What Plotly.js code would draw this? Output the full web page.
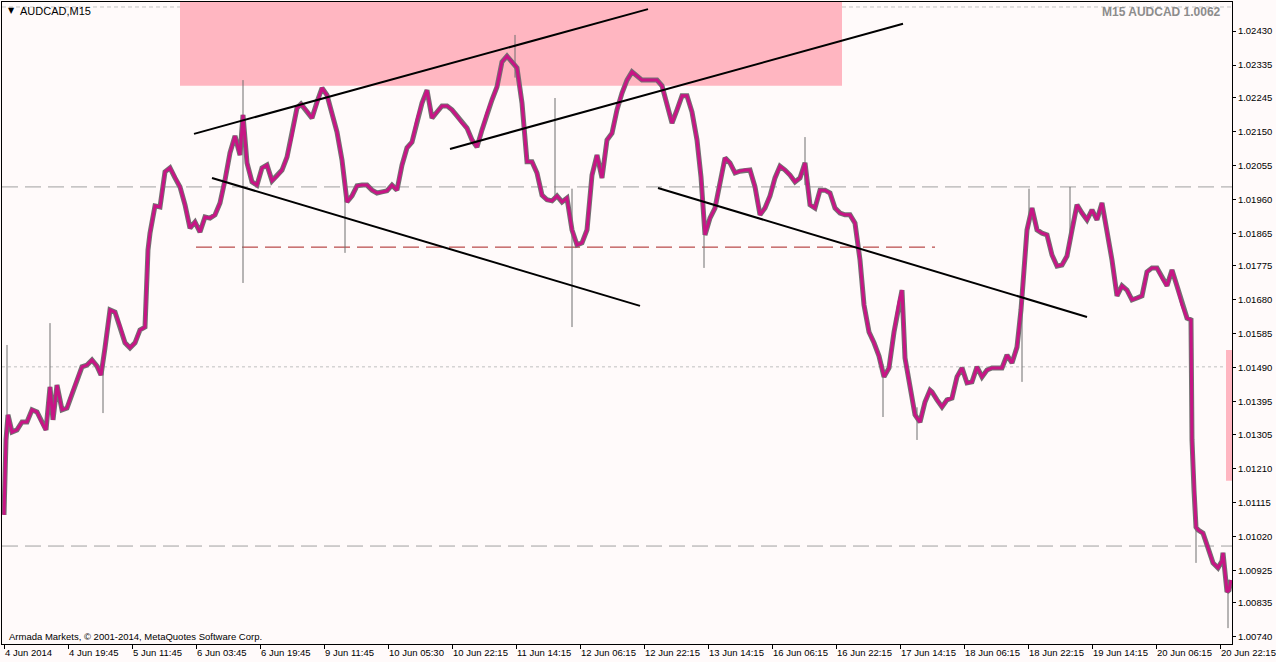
<!DOCTYPE html>
<html><head><meta charset="utf-8">
<script src="https://cdn.plot.ly/plotly-3.0.1.min.js"></script>
<style>html,body{margin:0;padding:0;background:#fffafa;overflow:hidden}#chart{width:1276px;height:662px}</style>
</head><body><div id="chart"></div>
<script>
// bar index (M15 bars) and close price
const barIdx = [0,2,4,8,13,18,23,28,33,38,42,46,49,53,58,63,68,73,78,83,88,93,97,101,106,111,116,121,126,131,136,141,144,146,151,156,161,166,171,176,181,186,191,196,201,206,211,216,221,226,231,236,239,243,248,253,258,263,268,273,278,283,288,293,297,302,308,313,318,323,328,333,338,343,348,353,358,363,368,373,378,383,388,393,398,403,408,413,418,423,428,433,438,443,448,453,458,463,468,473,478,483,488,493,498,503,508,513,518,523,528,533,538,543,548,553,558,563,568,573,578,583,588,593,598,603,608,613,618,623,628,633,638,643,648,653,658,663,668,673,678,683,688,693,697,701,706,711,716,721,726,731,736,741,746,751,756,761,766,771,776,781,786,791,796,801,806,811,816,821,826,831,836,841,846,851,856,860,865,870,875,880,885,890,895,898,901,906,911,916,921,926,928,933,938,943,948,953,958,963,968,973,978,983,988,993,998,1003,1008,1013,1017,1020,1023,1028,1033,1038,1043,1048,1053,1058,1063,1068,1073,1078,1083,1088,1093,1098,1103,1108,1113,1118,1123,1128,1133,1138,1143,1148,1153,1158,1163,1168,1173,1178,1183,1187,1188,1190,1192,1194,1199,1204,1209,1214,1218,1219,1223,1225,1227];
const closePrice = [1.01080,1.01289,1.01359,1.01311,1.01317,1.01339,1.01339,1.01373,1.01367,1.01336,1.01317,1.01437,1.01345,1.01442,1.01373,1.01378,1.01420,1.01456,1.01493,1.01498,1.01512,1.01495,1.01470,1.01546,1.01652,1.01646,1.01607,1.01560,1.01546,1.01560,1.01596,1.01604,1.01819,1.01866,1.01942,1.01939,1.02037,1.02048,1.02020,1.01995,1.01945,1.01880,1.01897,1.01869,1.01911,1.01908,1.01917,1.01950,1.02014,1.02090,1.02137,1.02084,1.02196,1.02062,1.02009,1.02000,1.02048,1.02056,1.02012,1.02025,1.02042,1.02078,1.02140,1.02215,1.02226,1.02210,1.02187,1.02232,1.02271,1.02251,1.02201,1.02148,1.02070,1.01953,1.01970,1.01998,1.02000,1.02000,1.01986,1.01978,1.01981,1.01984,1.02000,1.01986,1.02056,1.02104,1.02120,1.02182,1.02229,1.02265,1.02187,1.02204,1.02221,1.02221,1.02210,1.02193,1.02173,1.02159,1.02126,1.02106,1.02154,1.02201,1.02238,1.02274,1.02344,1.02360,1.02344,1.02327,1.02229,1.02065,1.02065,1.02034,1.01972,1.01959,1.01956,1.01970,1.01953,1.01964,1.01875,1.01833,1.01839,1.01875,1.02028,1.02084,1.02020,1.02126,1.02145,1.02210,1.02257,1.02293,1.02316,1.02305,1.02293,1.02293,1.02293,1.02293,1.02277,1.02221,1.02173,1.02210,1.02249,1.02249,1.02204,1.02126,1.02023,1.01861,1.01908,1.01936,1.02006,1.02076,1.02062,1.02034,1.02039,1.02042,1.02042,1.01995,1.01917,1.01936,1.01970,1.02020,1.02053,1.02042,1.02028,1.02009,1.02020,1.02062,1.01945,1.01936,1.01986,1.01986,1.01978,1.01936,1.01922,1.01917,1.01917,1.01894,1.01791,1.01666,1.01590,1.01560,1.01523,1.01465,1.01490,1.01590,1.01674,1.01707,1.01518,1.01434,1.01359,1.01339,1.01395,1.01428,1.01423,1.01401,1.01381,1.01401,1.01406,1.01465,1.01490,1.01448,1.01451,1.01493,1.01465,1.01484,1.01490,1.01490,1.01490,1.01526,1.01504,1.01548,1.01652,1.01763,1.01875,1.01936,1.01875,1.01866,1.01861,1.01805,1.01774,1.01777,1.01802,1.01875,1.01945,1.01922,1.01903,1.01931,1.01903,1.01950,1.01875,1.01791,1.01691,1.01719,1.01707,1.01680,1.01685,1.01691,1.01758,1.01769,1.01769,1.01741,1.01719,1.01763,1.01719,1.01666,1.01629,1.01624,1.01289,1.01149,1.01046,1.01038,1.01029,1.00988,1.00946,1.00932,1.00951,1.00974,1.00865,1.00870,1.00898];
// notable high/low wicks
const wickIdx  = [3,46,99,239,341,511,551,568,700,801,879,913,1018,1025,1066,1192,1224];
const wickLow  = [1.01345,1.01420,1.01364,1.01727,1.01811,1.02300,1.01960,1.01604,1.01769,1.02000,1.01353,1.01289,1.01451,1.01880,1.01860,1.00946,1.00764];
const wickHigh = [1.01554,1.01615,1.01530,1.02293,1.01990,1.02419,1.02243,1.01990,1.01900,1.02134,1.01500,1.01380,1.01700,1.01990,1.01995,1.01080,1.00870];
// trend lines (bar index, price)
const trendStartIdx = [190,446,208,654];
const trendStartPrice = [1.02143,1.02101,1.02020,1.01992];
const trendEndIdx = [644,899,636,1083];
const trendEndPrice = [1.02491,1.02450,1.01663,1.01632];
// horizontal levels
const greyDashLevels = [1.01995,1.00993];
const greyDotLevel = 1.01493;
const topLevel = 1.02497;
const redLevel = 1.01827, redStartIdx = 192, redEndIdx = 931;
// zones
const zoneIdx = [176,838], zonePrice = [1.02277,1.02511];
const sideZonePrice = [1.01175,1.01540], sideZoneIdx = [1222,1229];
// axes
const xTickIdx = [0,64,128,192,256,320,384,448,512,576,640,704,768,832,896,960,1024,1088,1152,1216];
const xTickText = ["4 Jun 2014","4 Jun 19:45","5 Jun 11:45","6 Jun 03:45","6 Jun 19:45","9 Jun 11:45","10 Jun 05:30","10 Jun 22:15","11 Jun 14:15","12 Jun 06:15","12 Jun 22:15","13 Jun 14:15","16 Jun 06:15","16 Jun 22:15","17 Jun 14:15","18 Jun 06:15","18 Jun 22:15","19 Jun 14:15","20 Jun 06:15","20 Jun 22:15"];
const yTickText = ["1.02430","1.02335","1.02245","1.02150","1.02055","1.01960","1.01865","1.01775","1.01680","1.01585","1.01490","1.01395","1.01305","1.01210","1.01115","1.01020","1.00925","1.00835","1.00740"];
const yTickVals = yTickText.map(Number);

const wx = [], wy = [];
wickIdx.forEach((ix, k) => { wx.push(ix, ix, null); wy.push(wickLow[k], wickHigh[k], null); });

const traces = [
  {x: wx, y: wy, mode: 'lines', line: {color: '#6e6e6e', width: 1}, hoverinfo: 'skip'},
  {x: barIdx, y: closePrice, mode: 'lines', line: {color: '#727272', width: 5}, hoverinfo: 'skip'},
  {x: barIdx, y: closePrice, mode: 'lines', line: {color: '#c71585', width: 3}, hoverinfo: 'skip'}
];

const shapes = [];
shapes.push({type: 'line', xref: 'paper', x0: 0, x1: 1, y0: topLevel, y1: topLevel, line: {color: '#c4c4c4', width: 1, dash: '4px,3px'}, layer: 'below'});
shapes.push({type: 'rect', x0: zoneIdx[0], x1: zoneIdx[1], y0: zonePrice[0], y1: zonePrice[1], fillcolor: '#ffb6c1', line: {width: 0}, layer: 'below'});
shapes.push({type: 'rect', x0: sideZoneIdx[0], x1: sideZoneIdx[1], y0: sideZonePrice[0], y1: sideZonePrice[1], fillcolor: '#ffb6c1', line: {width: 0}, layer: 'below'});
greyDashLevels.forEach(v => shapes.push({type: 'line', xref: 'paper', x0: 0, x1: 1, y0: v, y1: v, line: {color: '#a0a0a0', width: 1, dash: '16px,7px'}, layer: 'below'}));
shapes.push({type: 'line', xref: 'paper', x0: 0, x1: 1, y0: greyDotLevel, y1: greyDotLevel, line: {color: '#c0c0c0', width: 1, dash: '3px,3px'}, layer: 'below'});
shapes.push({type: 'line', x0: redStartIdx, x1: redEndIdx, y0: redLevel, y1: redLevel, line: {color: '#a82020', width: 1, dash: '16px,7px'}, layer: 'below'});
trendStartIdx.forEach((s, k) => shapes.push({type: 'line', x0: s, x1: trendEndIdx[k], y0: trendStartPrice[k], y1: trendEndPrice[k], line: {color: '#000000', width: 2}, layer: 'above'}));

const W = 1230, H = 642;
const px = v => (v - 2) / W, py = v => 1 - (v - 2) / H;
const annotations = [
  {text: '▼', xref: 'paper', yref: 'paper', x: px(6), y: py(11), xanchor: 'left', yanchor: 'middle', showarrow: false, font: {family: 'DejaVu Sans', size: 8, color: '#000'}},
  {text: 'AUDCAD,M15', xref: 'paper', yref: 'paper', x: px(18), y: py(11), xanchor: 'left', yanchor: 'middle', showarrow: false, font: {family: 'Liberation Sans', size: 11, color: '#000'}},
  {text: '<b>M15 AUDCAD 1.0062</b>', xref: 'paper', yref: 'paper', x: px(1100), y: py(12), xanchor: 'left', yanchor: 'middle', showarrow: false, font: {family: 'Liberation Sans', size: 12, color: '#8c8c8c'}},
  {text: 'Armada Markets, © 2001-2014, MetaQuotes Software Corp.', xref: 'paper', yref: 'paper', x: px(7), y: py(636), xanchor: 'left', yanchor: 'middle', showarrow: false, font: {family: 'Liberation Sans', size: 9.5, color: '#000'}}
];

const layout = {
  width: 1276, height: 662,
  margin: {l: 2, r: 44, t: 2, b: 18, pad: 0},
  paper_bgcolor: '#fffafa', plot_bgcolor: '#fffafa',
  showlegend: false,
  xaxis: {range: [-2, 1228], tickmode: 'array', tickvals: xTickIdx, ticktext: xTickText, tickangle: 0, automargin: false, ticks: 'outside', ticklen: 4, tickcolor: '#000', showline: true, linecolor: '#000', linewidth: 1, mirror: true, showgrid: false, zeroline: false, ticklabelposition: 'outside right', ticklabeloverflow: 'allow', tickfont: {family: 'Liberation Sans', size: 9.5, color: '#000'}},
  yaxis: {side: 'right', range: [1.007197, 1.025109], tickmode: 'array', tickvals: yTickVals, ticktext: yTickText, automargin: false, ticks: 'outside', ticklen: 3, tickcolor: '#000', showline: true, linecolor: '#000', linewidth: 1, mirror: true, showgrid: false, zeroline: false, tickfont: {family: 'Liberation Sans', size: 9.5, color: '#000'}},
  shapes: shapes,
  annotations: annotations
};
Plotly.newPlot('chart', traces, layout, {displayModeBar: false, staticPlot: true});
</script></body></html>
